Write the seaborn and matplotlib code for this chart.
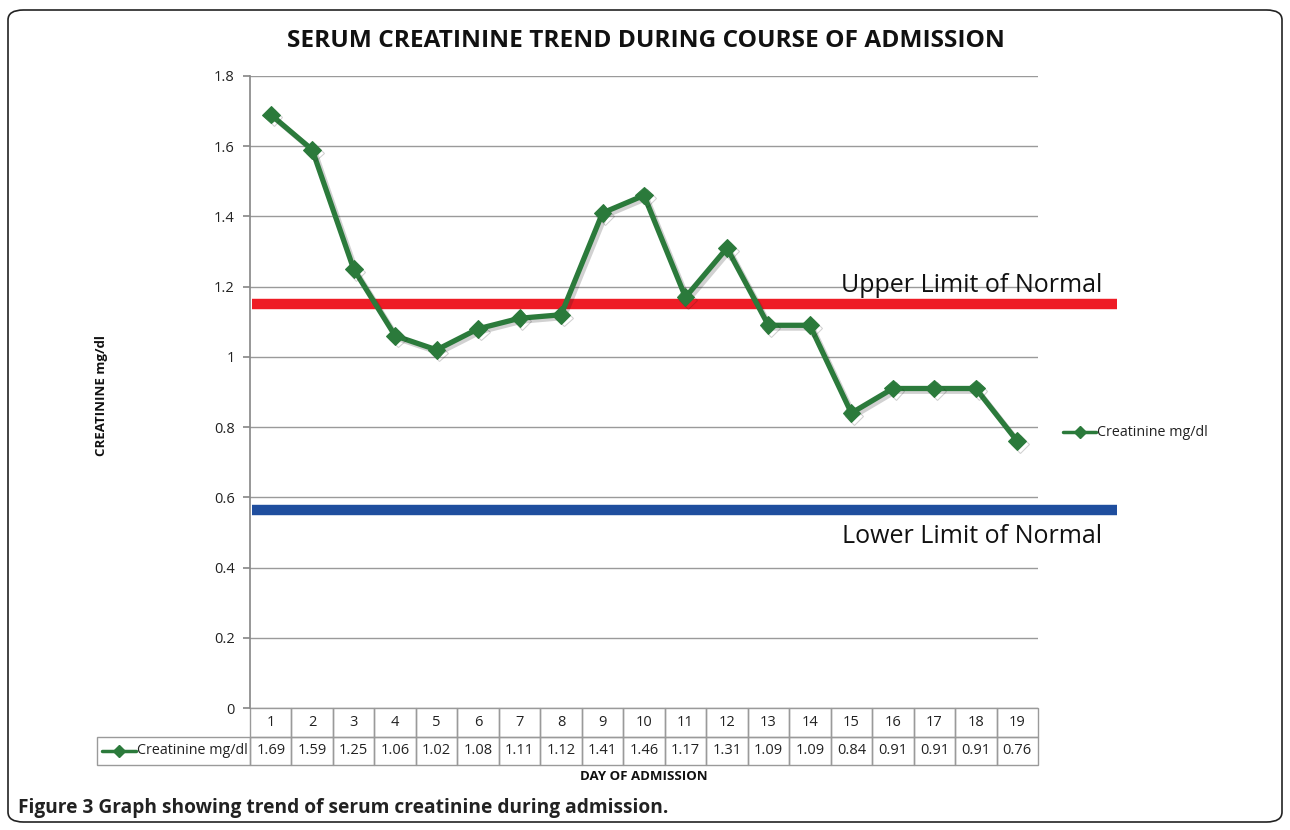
import matplotlib
matplotlib.use("Agg")
import matplotlib.pyplot as plt
import matplotlib.patheffects as pe
from matplotlib.patches import FancyBboxPatch, Rectangle
from matplotlib.lines import Line2D
from matplotlib.transforms import blended_transform_factory
import seaborn as sns
import pandas as pd

# ---- data ----
days = list(range(1, 20))
creatinine = [1.69, 1.59, 1.25, 1.06, 1.02, 1.08, 1.11, 1.12, 1.41, 1.46,
              1.17, 1.31, 1.09, 1.09, 0.84, 0.91, 0.91, 0.91, 0.76]
value_labels = ["1.69", "1.59", "1.25", "1.06", "1.02", "1.08", "1.11", "1.12", "1.41", "1.46",
                "1.17", "1.31", "1.09", "1.09", "0.84", "0.91", "0.91", "0.91", "0.76"]
y_ticks = [0, 0.2, 0.4, 0.6, 0.8, 1.0, 1.2, 1.4, 1.6, 1.8]
y_tick_labels = ["0", "0.2", "0.4", "0.6", "0.8", "1", "1.2", "1.4", "1.6", "1.8"]
upper_limit = 1.15
lower_limit = 0.565
series_name = "Creatinine mg/dl"
title = "SERUM CREATININE TREND DURING COURSE OF ADMISSION"
x_label = "DAY OF ADMISSION"
y_label = "CREATININE mg/dl"
caption = "Figure 3 Graph showing trend of serum creatinine during admission."

sns.set_theme(style="white")
plt.rcParams['font.family'] = ['Open Sans', 'DejaVu Sans']

W, H = 1290, 830
fig = plt.figure(figsize=(W / 100, H / 100), dpi=100)
fig.patch.set_facecolor("white")

# outer rounded frame
frame = FancyBboxPatch((8 / W, 8 / H), (1274) / W, (812) / H,
                       boxstyle="round,pad=0,rounding_size=0.012",
                       transform=fig.transFigure, fill=False,
                       edgecolor="#222222", linewidth=1.2)
fig.patches.append(frame)

ax_l, ax_r, ax_t, ax_b = 250, 1038, 76, 708
ax = fig.add_axes([ax_l / W, 1 - ax_b / H, (ax_r - ax_l) / W, (ax_b - ax_t) / H])

df = pd.DataFrame({"day": days, "val": creatinine})
green = "#2B7A3B"
sns.lineplot(data=df, x="day", y="val", ax=ax, color=green, linewidth=3.8,
             marker="D", markersize=9, markeredgecolor=green,
             path_effects=[pe.SimpleLineShadow(offset=(2, -2), alpha=0.2), pe.Normal()],
             zorder=5)

ax.set_xlim(0.5, 19.5)
ax.set_ylim(0, 1.8)
ax.set_yticks(y_ticks)
ax.set_yticklabels(y_tick_labels, fontsize=10.5, color="#222222")
ax.set_xticks([])
ax.grid(axis="y", color="#9a9a9a", linewidth=1.0)
ax.set_axisbelow(True)
for s in ["top", "right", "bottom"]:
    ax.spines[s].set_visible(False)
ax.spines["left"].set_color("#8a8a8a")
ax.tick_params(axis="y", length=5, color="#8a8a8a", pad=6, left=True)
ax.set_xlabel("")
ax.set_ylabel("")

# limit lines
xmax_lim = (1117 - ax_l) / (ax_r - ax_l)
ax.axhline(upper_limit, xmin=0.003, xmax=xmax_lim, color="#EE1C25", linewidth=7.5,
           solid_capstyle="butt", clip_on=False, zorder=3)
ax.axhline(lower_limit, xmin=0.003, xmax=xmax_lim, color="#1F4E9E", linewidth=7.5,
           solid_capstyle="butt", clip_on=False, zorder=3)
ax.text(21.05, upper_limit + 0.018, "Upper Limit of Normal",
        fontsize=18, ha="right", va="bottom", color="#111111")
ax.text(21.05, lower_limit - 0.04, "Lower Limit of Normal",
        fontsize=18, ha="right", va="top", color="#111111")

# data table below axes
ph = ax_b - ax_t
row_h = 28.5 / ph
tr = blended_transform_factory(ax.transData, ax.transAxes)
gc = "#9a9a9a"
for i, (d, v) in enumerate(zip(days, value_labels)):
    for r, txt in enumerate([str(d), v]):
        y0 = -(r + 1) * row_h
        ax.add_patch(Rectangle((d - 0.5, y0), 1, row_h, transform=tr,
                               fill=False, edgecolor=gc, linewidth=1.0, clip_on=False))
        ax.text(d, y0 + row_h / 2, txt, transform=tr, ha="center", va="center",
                fontsize=10.5, color="#222222", clip_on=False)
leg_x0 = (97 - ax_l) / (ax_r - ax_l)
ax.add_patch(Rectangle((leg_x0, -2 * row_h), -leg_x0, row_h, transform=ax.transAxes,
                       fill=False, edgecolor=gc, linewidth=1.0, clip_on=False))
lx = (102 - ax_l) / (ax_r - ax_l)
lx2 = (136 - ax_l) / (ax_r - ax_l)
ax.add_line(Line2D([lx, lx2], [-1.5 * row_h] * 2, transform=ax.transAxes, color=green,
                   linewidth=2.5, clip_on=False))
ax.add_line(Line2D([(lx + lx2) / 2], [-1.5 * row_h], transform=ax.transAxes, color=green,
                   marker="D", markersize=6, linestyle="none", clip_on=False))
ax.text(lx2 + 0.001, -1.5 * row_h, series_name, transform=ax.transAxes,
        ha="left", va="center", fontsize=10.3, color="#222222")

# right legend
lgx1, lgx2 = (1063 - ax_l) / (ax_r - ax_l), (1096 - ax_l) / (ax_r - ax_l)
lgy = 1 - (432 - ax_t) / ph
ax.add_line(Line2D([lgx1, lgx2], [lgy, lgy], transform=ax.transAxes, color=green,
                   linewidth=2.5, clip_on=False))
ax.add_line(Line2D([(lgx1 + lgx2) / 2], [lgy], transform=ax.transAxes, color=green,
                   marker="D", markersize=6, linestyle="none", clip_on=False))
ax.text(lgx2 + 0.001, lgy, series_name, transform=ax.transAxes, ha="left", va="center",
        fontsize=10.3, color="#222222")

# titles and labels
fig.text(646 / W, 1 - 41 / H, title, ha="center", va="center", fontsize=17.6,
         fontweight="bold", color="#111111")
fig.text(644 / W, 1 - 776 / H, x_label, ha="center", va="center", fontsize=9.5,
         fontweight="bold", color="#111111")
fig.text(102 / W, 1 - 396 / H, y_label, ha="center", va="center", fontsize=9.5,
         fontweight="bold", rotation=90, color="#111111")
fig.text(18 / W, 1 - 808 / H, caption, ha="left", va="center", fontsize=13.8,
         fontweight="bold", color="#222222")

fig.savefig("out.png", dpi=100)
